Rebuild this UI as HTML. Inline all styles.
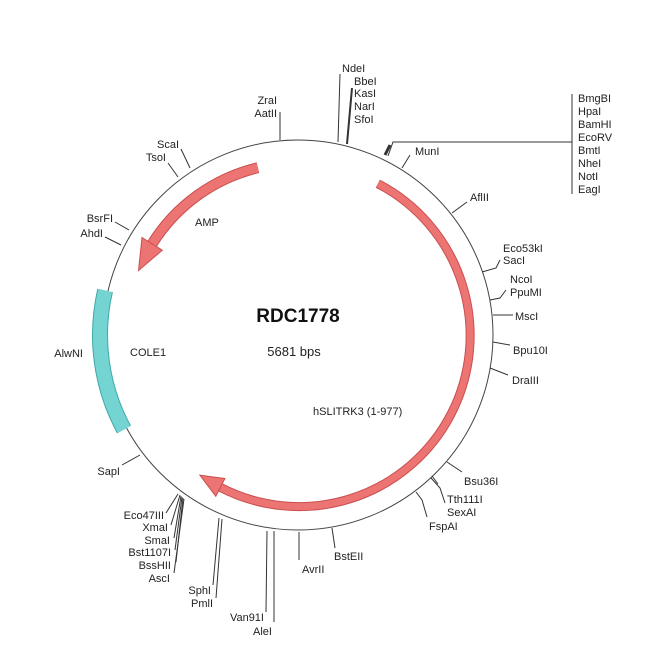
<!DOCTYPE html>
<html><head><meta charset="utf-8"><style>
body{margin:0;background:#fff}
svg{display:block}
text{font-family:"Liberation Sans",sans-serif;font-size:11px;fill:#222}
</style></head><body>
<svg width="650" height="650" viewBox="0 0 650 650" xmlns="http://www.w3.org/2000/svg">
<g stroke="#333" stroke-width="1" fill="none">
<circle cx="298" cy="335" r="195" stroke="#444"/>
<!-- ticks -->
<line x1="280" y1="140" x2="280" y2="112"/>
<line x1="338" y1="142" x2="340" y2="74"/>
<line x1="347" y1="144" x2="352" y2="88" stroke-width="2"/>
<line x1="190" y1="168" x2="181" y2="149"/>
<line x1="178" y1="177" x2="168" y2="163"/>
<line x1="129" y1="230" x2="115" y2="222"/>
<line x1="121" y1="245" x2="105" y2="237"/>
<line x1="93" y1="352" x2="103" y2="352"/>
<line x1="402" y1="168" x2="410" y2="155"/>
<path d="M388 156 L393 142 L572 142"/>
<line x1="385" y1="155" x2="390" y2="145" stroke-width="3"/>
<line x1="572" y1="94" x2="572" y2="194"/>
<line x1="452" y1="213" x2="467" y2="202"/>
<path d="M482 272 L496 268 L500 260"/>
<path d="M490 300 L500 298 L506 290"/>
<line x1="493" y1="315" x2="513" y2="315"/>
<line x1="493" y1="342" x2="510" y2="345"/>
<line x1="490" y1="368" x2="508" y2="375"/>
<line x1="447" y1="462" x2="462" y2="472"/>
<path d="M431 478 L440 488 L445 503"/>
<path d="M432 476 L438 484"/>
<path d="M416 492 L422 500 L427 517"/>
<line x1="332" y1="528" x2="335" y2="548"/>
<line x1="299" y1="532" x2="299" y2="560"/>
<line x1="267" y1="531" x2="266" y2="612"/>
<line x1="274" y1="531" x2="274" y2="622"/>
<line x1="219" y1="518" x2="213" y2="585"/>
<line x1="222" y1="519" x2="216" y2="598"/>
<line x1="178" y1="494" x2="166" y2="513"/>
<line x1="180" y1="495" x2="171" y2="525"/>
<line x1="181" y1="496" x2="174" y2="538"/>
<line x1="182" y1="497" x2="175" y2="550"/>
<line x1="183" y1="498" x2="176" y2="562"/>
<line x1="184" y1="499" x2="174" y2="573"/>
<line x1="140" y1="455" x2="122" y2="465"/>
</g>
<!-- features -->
<path d="M105.1 290.5 A198 198 0 0 0 124 429.5" stroke="#3fa8a8" stroke-width="16" fill="none"/>
<path d="M105.1 290.5 A198 198 0 0 0 124 429.5" stroke="#74d4d2" stroke-width="14" fill="none"/>
<path d="M377.8 183.7 A171 171 0 0 1 220.4 487.4" stroke="#c94f4f" stroke-width="9" fill="none"/>
<path d="M377.8 183.7 A171 171 0 0 1 220.4 487.4" stroke="#ec7472" stroke-width="7" fill="none"/>
<polygon points="215.8,496.3 224.9,478.5 199.9,475.1" fill="#ec7472" stroke="#c94f4f"/>
<path d="M257.9 167.7 A172 172 0 0 0 152.1 243.9" stroke="#c94f4f" stroke-width="11" fill="none"/>
<path d="M257.9 167.7 A172 172 0 0 0 152.1 243.9" stroke="#ec7472" stroke-width="9" fill="none"/>
<polygon points="142,237.5 162.3,250.2 138.5,270.6" fill="#ec7472" stroke="#c94f4f"/>
<!-- center -->
<text x="298" y="322" text-anchor="middle" style="font-size:19px;font-weight:bold;fill:#111">RDC1778</text>
<text x="294" y="356" text-anchor="middle" style="font-size:13px">5681 bps</text>
<text x="195" y="226">AMP</text>
<text x="130" y="356">COLE1</text>
<text x="313" y="415">hSLITRK3 (1-977)</text>
<!-- labels -->
<text x="277" y="104" text-anchor="end">ZraI</text>
<text x="277" y="117" text-anchor="end">AatII</text>
<text x="342" y="72">NdeI</text>
<text x="354" y="85">BbeI</text>
<text x="354" y="97">KasI</text>
<text x="354" y="110">NarI</text>
<text x="354" y="123">SfoI</text>
<text x="179" y="148" text-anchor="end">ScaI</text>
<text x="166" y="161" text-anchor="end">TsoI</text>
<text x="113" y="222" text-anchor="end">BsrFI</text>
<text x="103" y="237" text-anchor="end">AhdI</text>
<text x="83" y="357" text-anchor="end">AlwNI</text>
<text x="415" y="155">MunI</text>
<text x="578" y="102">BmgBI</text>
<text x="578" y="115">HpaI</text>
<text x="578" y="128">BamHI</text>
<text x="578" y="141">EcoRV</text>
<text x="578" y="154">BmtI</text>
<text x="578" y="167">NheI</text>
<text x="578" y="180">NotI</text>
<text x="578" y="193">EagI</text>
<text x="470" y="201">AflII</text>
<text x="503" y="252">Eco53kI</text>
<text x="503" y="264">SacI</text>
<text x="510" y="283">NcoI</text>
<text x="510" y="296">PpuMI</text>
<text x="515" y="320">MscI</text>
<text x="513" y="354">Bpu10I</text>
<text x="512" y="384">DraIII</text>
<text x="464" y="485">Bsu36I</text>
<text x="447" y="503">Tth111I</text>
<text x="447" y="516">SexAI</text>
<text x="429" y="530">FspAI</text>
<text x="334" y="560">BstEII</text>
<text x="302" y="573">AvrII</text>
<text x="264" y="621" text-anchor="end">Van91I</text>
<text x="272" y="635" text-anchor="end">AleI</text>
<text x="211" y="594" text-anchor="end">SphI</text>
<text x="213" y="607" text-anchor="end">PmlI</text>
<text x="164" y="519" text-anchor="end">Eco47III</text>
<text x="168" y="531" text-anchor="end">XmaI</text>
<text x="170" y="544" text-anchor="end">SmaI</text>
<text x="171" y="556" text-anchor="end">Bst1107I</text>
<text x="171" y="569" text-anchor="end">BssHII</text>
<text x="170" y="582" text-anchor="end">AscI</text>
<text x="120" y="475" text-anchor="end">SapI</text>
</svg>
</body></html>
